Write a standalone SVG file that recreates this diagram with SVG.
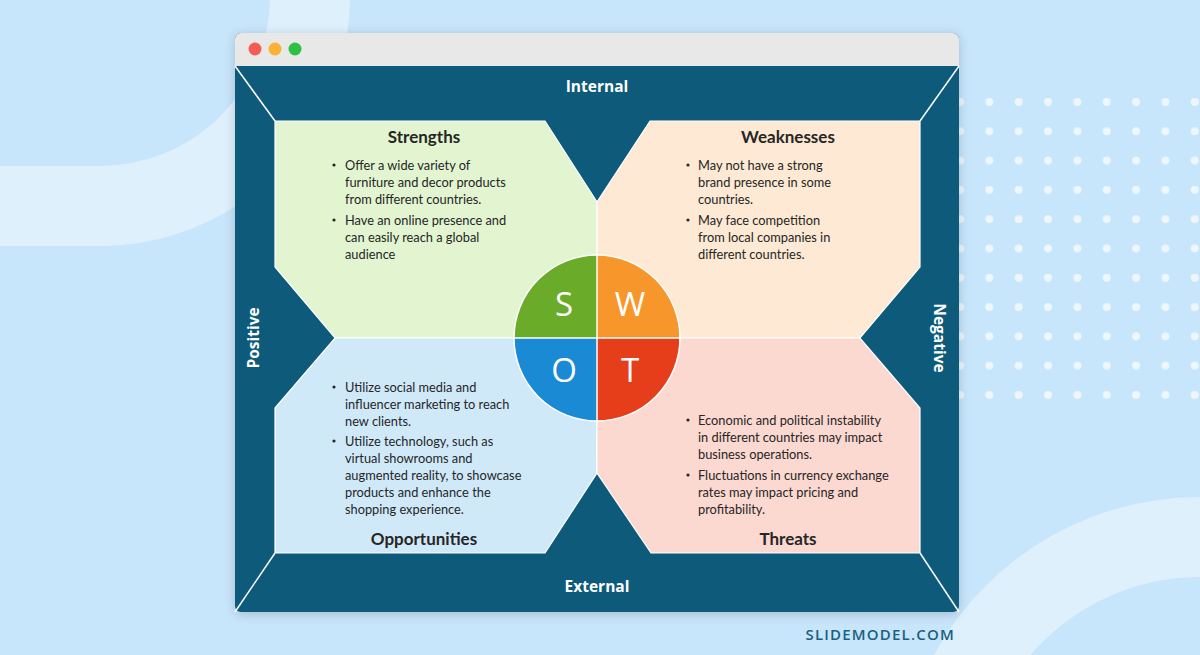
<svg xmlns="http://www.w3.org/2000/svg" width="1200" height="655" viewBox="0 0 1200 655">
<defs>
<filter id="shadow" x="-10%" y="-10%" width="120%" height="120%">
<feGaussianBlur in="SourceAlpha" stdDeviation="6"/>
<feOffset dx="0" dy="2"/>
<feComponentTransfer><feFuncA type="linear" slope="0.18"/></feComponentTransfer>
<feMerge><feMergeNode/><feMergeNode in="SourceGraphic"/></feMerge>
</filter>
<pattern id="dots" x="956" y="98" width="29.35" height="29.3" patternUnits="userSpaceOnUse">
<circle cx="4" cy="4" r="4" fill="#eef7fe"/>
</pattern>
</defs>
<style>
.body{font-family:Lato,"Liberation Sans",sans-serif;font-size:12.8px;fill:#262626}
.head{font-family:Lato,"Liberation Sans",sans-serif;font-size:17px;font-weight:bold;fill:#262626;text-anchor:middle}
.axis{font-family:"Open Sans","Liberation Sans",sans-serif;font-size:15.5px;font-weight:bold;fill:#ffffff;text-anchor:middle}
.letter{font-family:"Open Sans","Liberation Sans",sans-serif;font-size:33px;fill:#ffffff;text-anchor:middle}
.quad{stroke:#ffffff;stroke-width:1.2}
.wl{stroke:#ffffff;stroke-width:1.5;fill:none}
.bul{fill:#262626}
</style>
<rect width="1200" height="655" fill="#c7e5fb"/>
<path d="M-10,206 H100 A210,210 0 0 0 310,-4 V-20" fill="none" stroke="#dff0fd" stroke-width="80"/>
<circle cx="1200" cy="800" r="263" fill="none" stroke="#dff0fd" stroke-width="80"/>
<rect x="955" y="96" width="245" height="304" fill="url(#dots)"/>

<g id="window" filter="url(#shadow)">
<path d="M241,33 H953 A6,6 0 0 1 959,39 V606 A6,6 0 0 1 953,612 H241 A6,6 0 0 1 235,606 V39 A6,6 0 0 1 241,33 Z" fill="#0b5a7a"/>
<path d="M241,33 H953 A6,6 0 0 1 959,39 V66 H235 V39 A6,6 0 0 1 241,33 Z" fill="#e8e8e8"/>
<circle cx="255" cy="49" r="6.5" fill="#f45b55"/>
<circle cx="275" cy="49" r="6.5" fill="#f9b234"/>
<circle cx="295" cy="49" r="6.5" fill="#2fc043"/>
</g>

<g id="frame-lines">
<line class="wl" x1="235" y1="66" x2="275" y2="121"/>
<line class="wl" x1="959" y1="66" x2="920" y2="121"/>
<line class="wl" x1="235" y1="612" x2="275" y2="553"/>
<line class="wl" x1="959" y1="612" x2="920" y2="553"/>
</g>

<g id="internal"><text class="axis" x="597" y="92">Internal</text></g>
<g id="external"><text class="axis" x="597" y="592">External</text></g>
<g id="positive"><text class="axis" transform="translate(259,338) rotate(-90)">Positive</text></g>
<g id="negative"><text class="axis" transform="translate(934,338) rotate(90)">Negative</text></g>

<g id="strengths">
<polygon class="quad" fill="#e2f4d0" points="275,121 545,121 597,202 597,338 335,338 275,267"/>
<text class="head" x="424" y="143">Strengths</text>
<circle class="bul" cx="334" cy="165" r="1.6"/>
<text class="body" x="345" y="170">Offer a wide variety of</text>
<text class="body" x="345" y="187">furniture and decor products</text>
<text class="body" x="345" y="204">from different countries.</text>
<circle class="bul" cx="334" cy="220" r="1.6"/>
<text class="body" x="345" y="225">Have an online presence and</text>
<text class="body" x="345" y="242">can easily reach a global</text>
<text class="body" x="345" y="259">audience</text>
</g>

<g id="weaknesses">
<polygon class="quad" fill="#fde9d4" points="650,121 920,121 920,267 860,338 597,338 597,202"/>
<text class="head" x="788" y="143">Weaknesses</text>
<circle class="bul" cx="688" cy="165" r="1.6"/>
<text class="body" x="698" y="170">May not have a strong</text>
<text class="body" x="698" y="187">brand presence in some</text>
<text class="body" x="698" y="204">countries.</text>
<circle class="bul" cx="688" cy="220" r="1.6"/>
<text class="body" x="698" y="225">May face competition</text>
<text class="body" x="698" y="242">from local companies in</text>
<text class="body" x="698" y="259">different countries.</text>
</g>

<g id="opportunities">
<polygon class="quad" fill="#d0e9f9" points="275,408 335,338 597,338 597,473 545,553 275,553"/>
<circle class="bul" cx="334" cy="387" r="1.6"/>
<text class="body" x="345" y="392">Utilize social media and</text>
<text class="body" x="345" y="409">influencer marketing to reach</text>
<text class="body" x="345" y="426">new clients.</text>
<circle class="bul" cx="334" cy="441" r="1.6"/>
<text class="body" x="345" y="446">Utilize technology, such as</text>
<text class="body" x="345" y="463">virtual showrooms and</text>
<text class="body" x="345" y="480">augmented reality, to showcase</text>
<text class="body" x="345" y="497">products and enhance the</text>
<text class="body" x="345" y="514">shopping experience.</text>
<text class="head" x="424" y="545">Opportunities</text>
</g>

<g id="threats">
<polygon class="quad" fill="#fbd8d0" points="597,338 860,338 920,408 920,553 651,553 597,473"/>
<circle class="bul" cx="688" cy="420" r="1.6"/>
<text class="body" x="698" y="425">Economic and political instability</text>
<text class="body" x="698" y="442">in different countries may impact</text>
<text class="body" x="698" y="459">business operations.</text>
<circle class="bul" cx="688" cy="475" r="1.6"/>
<text class="body" x="698" y="480">Fluctuations in currency exchange</text>
<text class="body" x="698" y="497">rates may impact pricing and</text>
<text class="body" x="698" y="514">profitability.</text>
<text class="head" x="788" y="545">Threats</text>
</g>

<g id="swot-circle">
<path d="M597,338 V255 A83,83 0 0 0 514,338 Z" fill="#6aab2a"/>
<path d="M597,338 V255 A83,83 0 0 1 680,338 Z" fill="#f7962b"/>
<path d="M597,338 H514 A83,83 0 0 0 597,421 Z" fill="#1a8ad4"/>
<path d="M597,338 H680 A83,83 0 0 1 597,421 Z" fill="#e63e1a"/>
<circle cx="597" cy="338" r="83" fill="none" stroke="#ffffff" stroke-width="1.5"/>
<line x1="597" y1="255" x2="597" y2="421" stroke="#ffffff" stroke-width="1.5"/>
<line x1="514" y1="338" x2="680" y2="338" stroke="#ffffff" stroke-width="1.5"/>
<text class="letter" x="564" y="316">S</text>
<text class="letter" x="630" y="316">W</text>
<text class="letter" x="564" y="382">O</text>
<text class="letter" x="630" y="382">T</text>
</g>

<g id="logo">
<text x="955" y="640" text-anchor="end" font-family="'Open Sans','Liberation Sans',sans-serif" font-size="15px" font-weight="600" letter-spacing="1.2" fill="#1b5f80">SLIDEMODEL.COM</text>
</g>
</svg>
